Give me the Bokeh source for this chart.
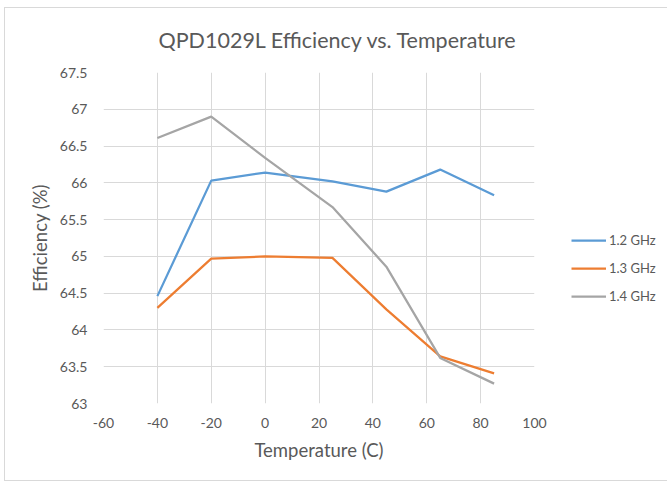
from bokeh.plotting import figure
from bokeh.models import FixedTicker, Legend, LegendItem
from bokeh.embed import file_html
from bokeh.resources import INLINE

temps = [-40, -20, 0, 25, 45, 65, 85]
eff_12 = [64.46, 66.03, 66.14, 66.02, 65.88, 66.18, 65.83]
eff_13 = [64.30, 64.97, 65.00, 64.98, 64.28, 63.64, 63.41]
eff_14 = [66.61, 66.90, 66.34, 65.67, 64.86, 63.62, 63.27]
series_names = ["1.2 GHz", "1.3 GHz", "1.4 GHz"]
series_colors = ["#5B9BD5", "#ED7D31", "#A5A5A5"]
x_ticks = [-60, -40, -20, 0, 20, 40, 60, 80, 100]
x_tick_labels = ["-60", "-40", "-20", "0", "20", "40", "60", "80", "100"]
y_ticks = [63, 63.5, 64, 64.5, 65, 65.5, 66, 66.5, 67, 67.5]
y_tick_labels = ["63", "63.5", "64", "64.5", "65", "65.5", "66", "66.5", "67", "67.5"]

FONT = "Lato"
TXT = "#595959"

p = figure(width=660, height=472, output_backend="svg", toolbar_location=None,
           x_range=(-60, 100), y_range=(63, 67.5),
           frame_width=431, frame_height=331,
           min_border_left=98, min_border_right=131, min_border_top=64, min_border_bottom=77,
           title="QPD1029L Efficiency vs. Temperature")
p.margin = (7, 0, 0, 4)
p.outline_line_color = None
p.styles = {"border": "1px solid #d9d9d9"}

p.title.text_font = FONT
p.title.text_font_size = "21.5px"
p.title.text_font_style = "normal"
p.title.text_color = TXT
p.title.align = "left"
p.title.vertical_align = "top"
p.title.standoff = 36
p.title.offset = 55

p.xaxis.ticker = FixedTicker(ticks=x_ticks)
p.yaxis.ticker = FixedTicker(ticks=y_ticks)
p.xaxis.major_label_overrides = {t: l for t, l in zip(x_ticks, x_tick_labels)}
p.yaxis.major_label_overrides = {t: l for t, l in zip(y_ticks, y_tick_labels)}
for ax in (p.xaxis[0], p.yaxis[0]):
    ax.axis_line_color = None
    ax.major_tick_line_color = None
    ax.minor_tick_line_color = None
    ax.major_tick_in = 0
    ax.major_tick_out = 0
    ax.major_label_text_font = FONT
    ax.major_label_text_font_size = "14px"
    ax.major_label_text_color = TXT
    ax.axis_label_text_font = FONT
    ax.axis_label_text_font_size = "18.5px"
    ax.axis_label_text_font_style = "normal"
    ax.axis_label_text_color = TXT
p.xaxis.axis_label = "Temperature (C)"
p.yaxis.axis_label = "Efficiency (%)"
p.xaxis.major_label_standoff = 14
p.yaxis.major_label_standoff = 16
p.xaxis.axis_label_standoff = 8
p.yaxis.axis_label_standoff = 6

p.grid.grid_line_color = "#d9d9d9"
p.grid.grid_line_width = 1

items = []
for name, color, ys in zip(series_names, series_colors, [eff_12, eff_13, eff_14]):
    r = p.line(temps, ys, line_color=color, line_width=2.25)
    items.append(LegendItem(label=name, renderers=[r]))

legend = Legend(items=items, location=(37, 97), border_line_color=None,
                background_fill_alpha=0, label_text_font=FONT, label_text_font_size="13px",
                label_text_color=TXT, glyph_width=35, glyph_height=20, label_height=20,
                spacing=8, padding=10, label_standoff=3, margin=0)
p.add_layout(legend, "right")

open("out.html", "w").write(file_html(p, INLINE))
